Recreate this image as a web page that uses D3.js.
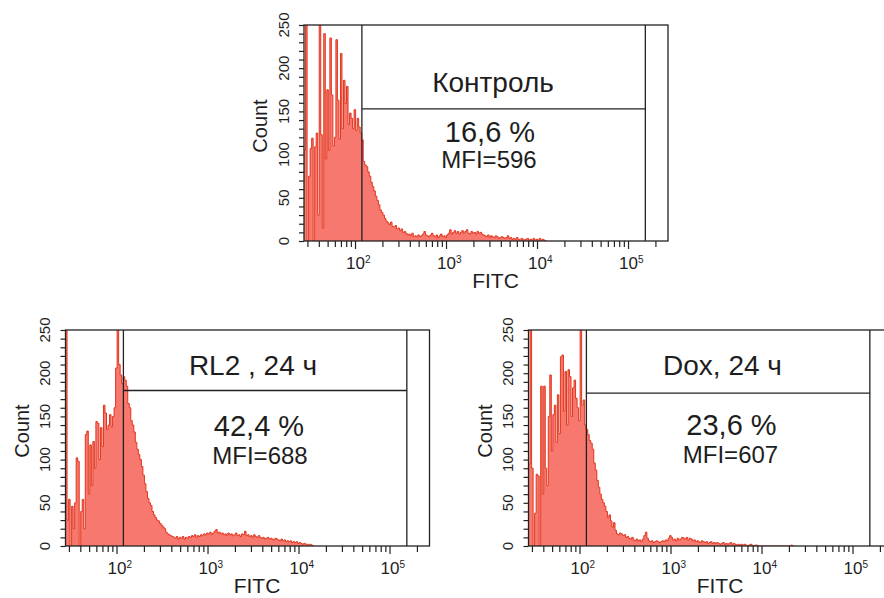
<!DOCTYPE html>
<html><head><meta charset="utf-8">
<script src="https://cdn.jsdelivr.net/npm/d3@7"></script>
<style>
body{margin:0;background:#fff}
svg{display:block}
text{font-family:"Liberation Sans",Arial,sans-serif;fill:#1e1e1e}
</style>
</head><body>
<svg id="c" width="884" height="598"></svg>
<script>
// ---------- data ----------
const panelTitles   = ["Контроль", "RL2 , 24 ч", "Dox, 24 ч"];
const panelPercents = ["16,6 %", "42,4 %", "23,6 %"];
const panelMFI      = ["MFI=596", "MFI=688", "MFI=607"];
const gateLevel     = [153, 180, 177];     // count level of the gate's horizontal line
const gateLow  = 119;                       // FITC
const gateHigh = 155000;                    // FITC
const xDomain  = [27.5, 275000];
const yDomain  = [0, 250];
const binStartLog = 1.44;                   // log10 FITC of first channel
const binsPerDecade = 60;
const yMinorTicks = [0,10,20,30,40,50,60,70,80,90,100,110,120,130,140,150,160,170,180,190,200,210,220,230,240,250];
const yLabelTicks = [0,50,100,150,200,250];
const xMajorTicks = [100,1000,10000,100000];
const xMajorExp   = ["2","3","4","5"];
const xMinorTicks = [30,40,50,60,70,80,90,200,300,400,500,600,700,800,900,
  2000,3000,4000,5000,6000,7000,8000,9000,20000,30000,40000,50000,60000,70000,80000,90000,200000];

const controlCounts = [
  105,260,0,75,107,119,0,109,125,30,
  255,123,15,240,95,175,105,235,169,110,
  120,233,163,118,217,130,186,159,179,135,
  148,142,130,152,128,142,132,125,117,92,
  88,86,80,75,68,63,58,52,47,42,
  36,33,30,26,23,21,19,22,17,16,
  18,14,15,12,14,10,11,9,7,8,
  6,9,5,6,5,7,5,6,8,11,
  7,6,5,7,9,6,5,7,4,6,
  8,5,6,4,7,9,13,8,10,12,
  9,11,8,10,12,9,11,13,9,8,
  11,9,10,8,11,9,10,8,7,6,
  5,7,4,6,5,4,6,5,3,4,
  5,4,3,4,6,3,4,2,3,2,
  4,2,1,3,2,1,2,3,1,2,
  1,3,1,2,1,3,1,2,1,0
];
const rl2Counts = [
  260,30,54,0,46,20,50,102,98,
  0,40,54,20,129,133,60,117,70,121,
  90,144,142,100,137,115,163,154,135,140,
  152,138,150,160,206,260,210,198,188,196,
  192,185,165,160,145,140,132,120,112,106,
  100,92,82,72,63,55,50,47,40,36,
  33,30,29,26,24,22,20,16,14,13,
  12,11,10,9,11,8,10,9,11,8,
  10,9,11,10,12,11,13,10,12,11,
  13,12,14,13,15,14,16,13,15,17,
  19,15,16,14,15,13,14,12,15,13,
  14,12,13,15,12,13,11,14,13,17,
  12,13,11,12,10,13,11,10,12,10,
  9,10,8,9,10,8,9,8,7,9,
  8,7,6,8,6,7,5,6,5,6,
  4,5,4,5,3,4,3,2,3,2,
  2,1,2,1,0
];
const doxCounts = [
  95,260,90,0,38,83,81,0,185,60,
  185,90,70,150,198,110,152,163,120,175,
  130,219,221,156,202,140,204,196,150,183,
  192,171,160,145,260,163,169,140,135,129,
  122,119,112,96,88,76,68,60,54,50,
  46,40,33,36,29,22,27,18,14,13,
  15,14,12,13,10,11,9,8,10,7,
  6,8,6,7,5,8,12,16,9,6,
  5,6,4,5,6,5,4,5,6,5,
  7,6,9,12,10,7,8,6,9,7,
  8,10,9,8,10,7,9,8,6,7,
  5,6,5,4,6,5,4,5,3,4,
  5,3,4,3,4,3,2,3,4,2,
  3,2,3,4,2,3,2,1,2,1,
  2,1,2,1,0,1,2,1,0,1,
  1,0,0,0,0,0,0,0,0,0,
  0,0,0,0,0,0,0,0,0,0,
  0,0,0,1,0
];
const seriesCounts = [controlCounts, rl2Counts, doxCounts];

// ---------- layout ----------
const W = 364, H = 216;
const layout = [
  {left:304,   top:25,  title:[189,66.7],   pct:[186,117.3], mfi:[185,143.3]},
  {left:65.5,  top:330, title:[187.5,45],   pct:[193.5,106], mfi:[194.5,134]},
  {left:528.5, top:330, title:[194,45],     pct:[203,105],   mfi:[202,133]}
];
const FILL = "#f7786e", STROKE = "#e2361f", INK = "#222";

const svg = d3.select("#c");
const x = d3.scaleLog().domain(xDomain).range([0, W]);
const y = d3.scaleLinear().domain(yDomain).range([H, 0]);
const binEdge = i => Math.pow(10, binStartLog + i / binsPerDecade);

layout.forEach((L, p) => {
  const g = svg.append("g").attr("transform", `translate(${L.left},${L.top})`);
  const counts = seriesCounts[p];
  const pts = counts.map((c, i) => ({v: binEdge(i), c}));
  pts.push({v: binEdge(counts.length), c: counts[counts.length - 1]});

  g.append("clipPath").attr("id", "clip" + p)
    .append("rect").attr("x", 0).attr("y", 0).attr("width", W).attr("height", H);

  const hist = g.append("g").attr("clip-path", `url(#clip${p})`);
  hist.append("path").datum(pts)
    .attr("fill", FILL)
    .attr("d", d3.area().curve(d3.curveStepAfter).x(d => x(d.v)).y0(y(0)).y1(d => y(d.c)));
  hist.append("path").datum(pts)
    .attr("fill", "none").attr("stroke", STROKE).attr("stroke-width", 1)
    .attr("d", d3.line().curve(d3.curveStepAfter).x(d => x(d.v)).y(d => y(d.c)));

  // gate
  const gl = g.append("g").attr("stroke", INK).attr("stroke-width", 1.3);
  gl.append("line").attr("x1", x(gateLow)).attr("x2", x(gateLow)).attr("y1", 0).attr("y2", H);
  gl.append("line").attr("x1", x(gateHigh)).attr("x2", x(gateHigh)).attr("y1", 0).attr("y2", H);
  gl.append("line").attr("x1", x(gateLow)).attr("x2", x(gateHigh))
    .attr("y1", y(gateLevel[p])).attr("y2", y(gateLevel[p]));

  // frame
  g.append("rect").attr("x", 0).attr("y", 0).attr("width", W).attr("height", H)
    .attr("fill", "none").attr("stroke", INK).attr("stroke-width", 1.3);

  // y axis ticks
  const ya = g.append("g").call(d3.axisLeft(y).tickValues(yMinorTicks).tickSize(5).tickFormat(""));
  ya.select(".domain").remove();
  ya.selectAll("line").attr("stroke", INK).attr("stroke-width", 1.2);
  g.selectAll(".ylab").data(yLabelTicks).enter().append("text")
    .attr("transform", d => `translate(-15.5,${y(d)}) rotate(-90)`)
    .attr("text-anchor", "middle").style("font-size", "15px").text(d => d);

  // x axis ticks
  const xmin = g.append("g").attr("transform", `translate(0,${H})`)
    .call(d3.axisBottom(x).tickValues(xMinorTicks).tickSize(6).tickFormat(""));
  xmin.select(".domain").remove();
  xmin.selectAll("line").attr("stroke", INK).attr("stroke-width", 1.2);
  const xmaj = g.append("g").attr("transform", `translate(0,${H})`)
    .call(d3.axisBottom(x).tickValues(xMajorTicks).tickSize(8).tickFormat(""));
  xmaj.select(".domain").remove();
  xmaj.selectAll("line").attr("stroke", INK).attr("stroke-width", 1.2);

  xMajorTicks.forEach((v, k) => {
    const t = g.append("text").attr("x", x(v) - 9).attr("y", H + 28.3).style("font-size", "17px");
    t.append("tspan").text("10");
    t.append("tspan").attr("dy", -6.5).style("font-size", "10px").text(xMajorExp[k]);
  });

  // axis titles
  g.append("text").attr("transform", `translate(-37,${101}) rotate(-90)`)
    .attr("text-anchor", "middle").style("font-size", "20px").text("Count");
  g.append("text").attr("x", 191.5).attr("y", H + 47.3)
    .attr("text-anchor", "middle").style("font-size", "21px").text("FITC");

  // annotations
  g.append("text").attr("x", L.title[0]).attr("y", L.title[1])
    .attr("text-anchor", "middle").style("font-size", "28px").text(panelTitles[p]);
  g.append("text").attr("x", L.pct[0]).attr("y", L.pct[1])
    .attr("text-anchor", "middle").style("font-size", "29px").text(panelPercents[p]);
  g.append("text").attr("x", L.mfi[0]).attr("y", L.mfi[1])
    .attr("text-anchor", "middle").style("font-size", "24px").text(panelMFI[p]);
});
</script>
</body></html>
